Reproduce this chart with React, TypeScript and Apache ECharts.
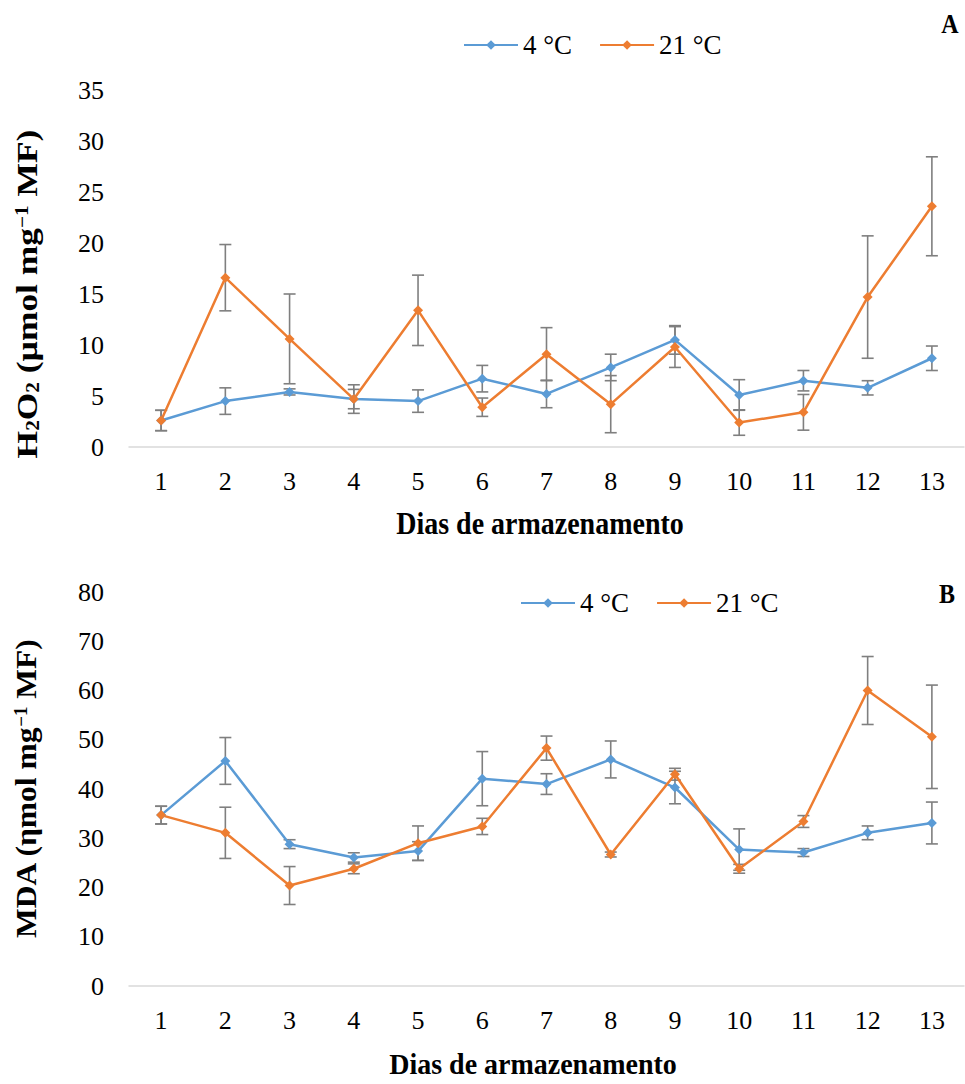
import React, { useEffect, useRef } from "react";
import * as echarts from "echarts";

const days = ["1", "2", "3", "4", "5", "6", "7", "8", "9", "10", "11", "12", "13"];
const yTicksA = [0, 5, 10, 15, 20, 25, 30, 35];
const yTicksB = [0, 10, 20, 30, 40, 50, 60, 70, 80];

const h2o2_4 = [2.6, 4.5, 5.4, 4.7, 4.5, 6.7, 5.2, 7.8, 10.5, 5.1, 6.5, 5.8, 8.7];
const h2o2_4_err = [1.0, 1.3, 0.3, 0.95, 1.1, 1.3, 1.35, 1.3, 1.4, 1.5, 1.0, 0.7, 1.2];
const h2o2_21 = [2.6, 16.6, 10.6, 4.7, 13.4, 3.9, 9.1, 4.2, 9.8, 2.4, 3.4, 14.7, 23.6];
const h2o2_21_err = [1.0, 3.25, 4.4, 1.4, 3.45, 0.9, 2.6, 2.8, 2.0, 1.25, 1.75, 6.0, 4.85];

const mda_4 = [34.7, 45.7, 28.8, 26.1, 27.4, 42.1, 41.0, 46.0, 40.3, 27.7, 27.1, 31.1, 33.1];
const mda_4_err = [1.8, 4.75, 0.9, 0.95, 1.9, 5.5, 2.1, 3.75, 3.3, 4.2, 0.8, 1.4, 4.25];
const mda_21 = [34.7, 31.1, 20.4, 23.8, 29.0, 32.4, 48.3, 26.7, 43.0, 23.8, 33.4, 60.0, 50.6];
const mda_21_err = [1.8, 5.2, 3.85, 1.0, 3.5, 1.65, 2.45, 0.5, 1.2, 0.9, 1.2, 6.9, 10.5];

const names = ["4 °C", "21 °C"];
const colors = ["#5b9bd5", "#ed7d31"];
const FONT = "'Liberation Serif', 'Times New Roman', serif";

function errData(vals: number[], errs: number[]) {
  return vals.map((v, i) => [i, v - errs[i], v + errs[i]]);
}

function errSeries(vals: number[], errs: number[], axisIdx: number) {
  return {
    type: "custom",
    xAxisIndex: axisIdx,
    yAxisIndex: axisIdx,
    z: 1,
    silent: true,
    data: errData(vals, errs),
    renderItem: (params: any, api: any) => {
      const x = api.value(0);
      const lo = api.coord([x, api.value(1)]);
      const hi = api.coord([x, api.value(2)]);
      const w = 6;
      const style = { stroke: "#7f7f7f", lineWidth: 1.6 };
      return {
        type: "group",
        children: [
          { type: "line", shape: { x1: hi[0], y1: hi[1], x2: lo[0], y2: lo[1] }, style },
          { type: "line", shape: { x1: hi[0] - w, y1: hi[1], x2: hi[0] + w, y2: hi[1] }, style },
          { type: "line", shape: { x1: lo[0] - w, y1: lo[1], x2: lo[0] + w, y2: lo[1] }, style },
        ],
      };
    },
  };
}

function lineSeries(name: string, color: string, vals: number[], axisIdx: number) {
  return {
    type: "line",
    name,
    xAxisIndex: axisIdx,
    yAxisIndex: axisIdx,
    z: 3,
    data: vals,
    symbol: "diamond",
    symbolSize: 10,
    lineStyle: { color, width: 2.5 },
    itemStyle: { color },
  };
}

function txt(text: string, x: number, y: number, size: number, sx: number, sy: number, rot = 0) {
  return {
    type: "text",
    x,
    y,
    rotation: rot,
    scaleX: sx,
    scaleY: sy,
    style: {
      text,
      font: `bold ${size}px ${FONT}`,
      fill: "#000",
      align: "center",
      verticalAlign: "middle",
    },
  };
}

const rich = {
  b: { fontFamily: FONT, fontWeight: "bold", fontSize: 30, lineHeight: 34, color: "#000", verticalAlign: "middle" },
  s: { fontFamily: FONT, fontWeight: "bold", fontSize: 18, lineHeight: 34, color: "#000", verticalAlign: "bottom", padding: [0, 0, 2, 0] },
  p: { fontFamily: FONT, fontWeight: "bold", fontSize: 18, lineHeight: 34, color: "#000", verticalAlign: "top", padding: [3, 0, 0, 0] },
};

function richTitle(text: string, x: number, y: number, sx: number) {
  return {
    type: "text",
    x,
    y,
    rotation: Math.PI / 2,
    scaleX: sx,
    scaleY: 1,
    style: {
      text,
      rich,
      fill: "#000",
      align: "center",
      verticalAlign: "middle",
    },
  };
}

export default function App() {
  const ref = useRef<HTMLDivElement>(null);
  useEffect(() => {
    const chart = echarts.init(ref.current!, null, { renderer: "svg" });
    const axisLabel = { fontFamily: FONT, fontSize: 26, color: "#000" };
    const xAxisBase = {
      type: "category",
      data: days,
      boundaryGap: true,
      axisLine: { lineStyle: { color: "#d9d9d9", width: 1.5 } },
      axisTick: { show: false },
      axisLabel: { ...axisLabel, margin: 21 },
    };
    const yAxisBase = {
      type: "value",
      min: 0,
      axisLine: { show: false },
      axisTick: { show: false },
      splitLine: { show: false },
      axisLabel: { ...axisLabel, margin: 25 },
    };
    const legendBase = {
      data: names,
      itemWidth: 54,
      itemHeight: 12,
      itemGap: 27,
      textStyle: { fontFamily: FONT, fontSize: 27, color: "#000", lineHeight: 30 },
    };
    chart.setOption({
      animation: false,
      backgroundColor: "#fff",
      color: colors,
      grid: [
        { left: 129, right: 1, top: 90, height: 357 },
        { left: 129, right: 1, top: 592, height: 394 },
      ],
      xAxis: [
        { ...xAxisBase, gridIndex: 0 },
        { ...xAxisBase, gridIndex: 1 },
      ],
      yAxis: [
        { ...yAxisBase, gridIndex: 0, max: yTicksA[yTicksA.length - 1], interval: 5 },
        { ...yAxisBase, gridIndex: 1, max: yTicksB[yTicksB.length - 1], interval: 10 },
      ],
      legend: [
        { ...legendBase, left: 458, top: 25 },
        { ...legendBase, left: 515, top: 583 },
      ],
      graphic: [
        txt("A", 950, 24, 24, 1, 1.15),
        txt("B", 947, 594, 24, 1, 1.15),
        txt("Dias de armazenamento", 540, 524, 28, 1, 1.1),
        txt("Dias de armazenamento", 533, 1064, 28, 1, 1.08),
        richTitle("{b|H}{s|2}{b|O}{s|2}{b| (µmol mg}{p|−1}{b| MF)}", 27, 294, 1.18),
        richTitle("{b|MDA (ηmol mg}{p|−1}{b| MF)}", 26, 789, 1.05),
      ],
      series: [
        errSeries(h2o2_4, h2o2_4_err, 0),
        errSeries(h2o2_21, h2o2_21_err, 0),
        lineSeries(names[0], colors[0], h2o2_4, 0),
        lineSeries(names[1], colors[1], h2o2_21, 0),
        errSeries(mda_4, mda_4_err, 1),
        errSeries(mda_21, mda_21_err, 1),
        lineSeries(names[0], colors[0], mda_4, 1),
        lineSeries(names[1], colors[1], mda_21, 1),
      ],
    });
    return () => chart.dispose();
  }, []);
  return (
    <div
      ref={ref}
      style={{ position: "absolute", left: 0, top: 0, width: 965, height: 1084 }}
    />
  );
}
